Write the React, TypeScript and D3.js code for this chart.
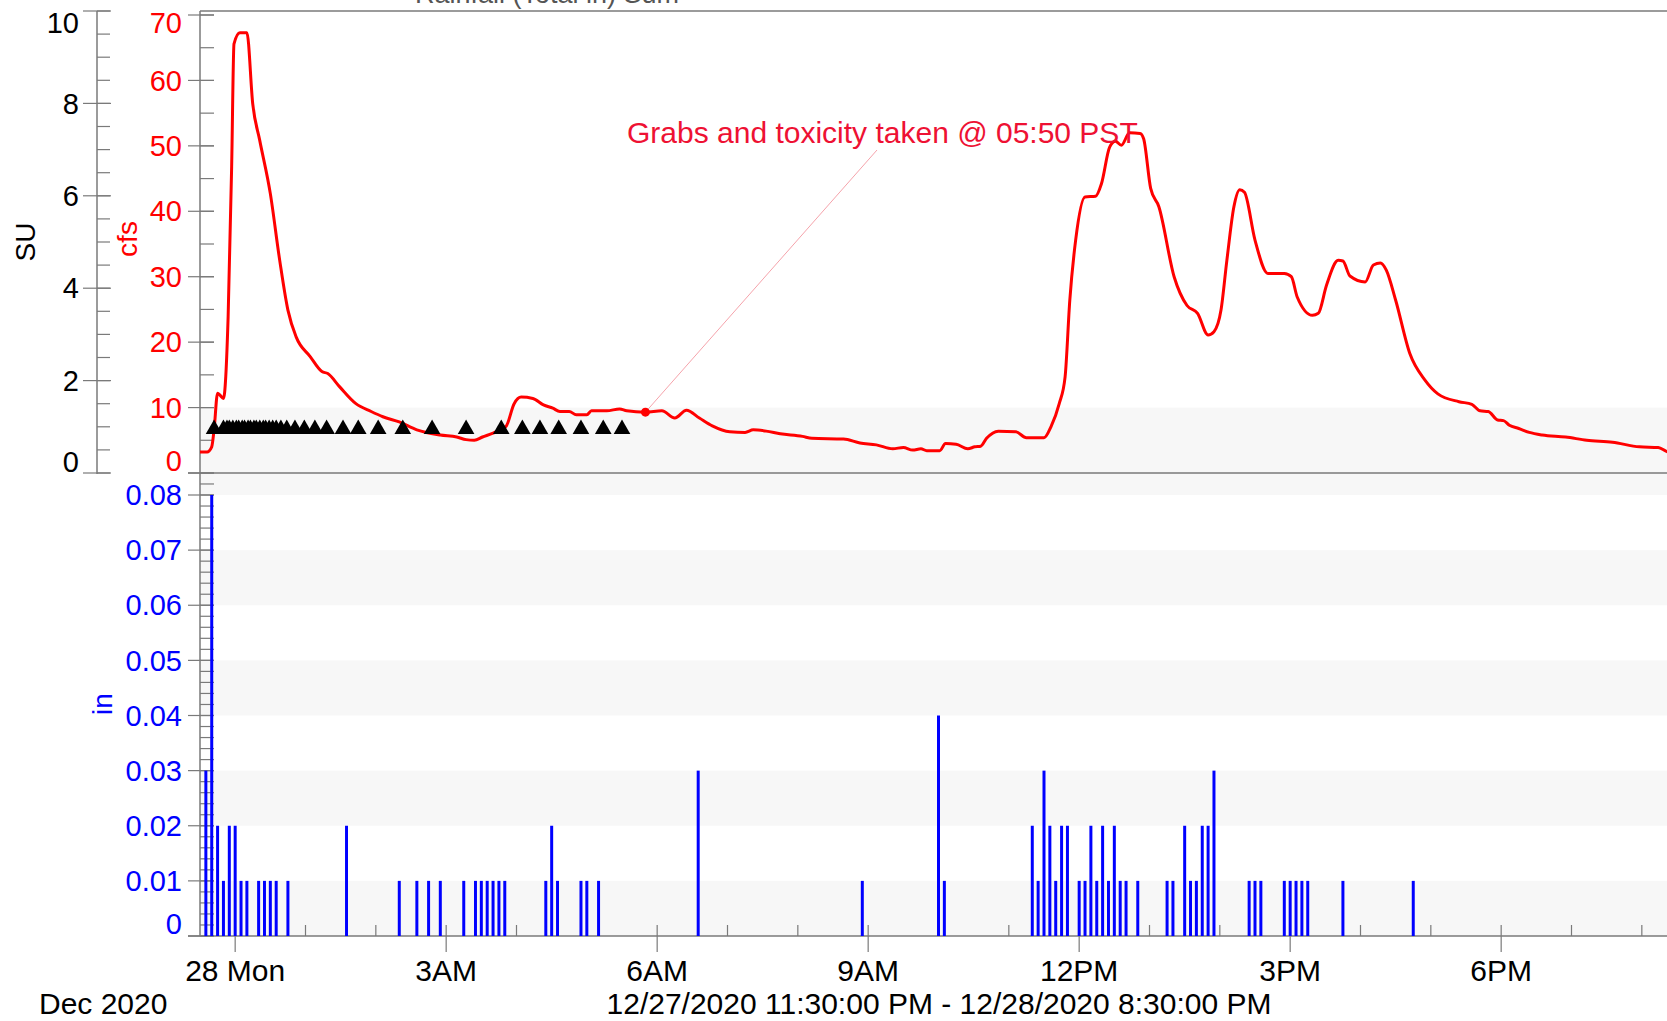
import React from 'react';
import * as d3 from 'd3';

const W = 1667;
const H = 1021;

// time window shown on the chart
const startTime = new Date(2020, 11, 27, 23, 30);
const endTime = new Date(2020, 11, 28, 20, 30);
const midnight = new Date(2020, 11, 28, 0, 0);

// flow (cfs) as [minutes after midnight 12/28, cfs]
const flowSeries: [number, number][] = [
  [-30, 3.2], [-24, 3.2], [-20, 4.0], [-18, 6.6], [-15, 12.2], [-12.5, 11.9], [-10, 11.4],
  [-6, 23.9], [-3, 46.8], [-0.3, 65.6], [4, 67.3], [10, 67.3], [15, 56.4], [21, 50.8],
  [30, 42.7], [38, 32.5], [45, 24.9], [52, 20.8], [64, 17.8], [74, 15.5], [79, 15.2],
  [89, 13.2], [103, 10.6], [116, 9.4], [126, 8.6], [140, 7.8], [155, 6.6], [175, 5.8],
  [189, 5.5], [197, 5.1], [204, 5.0], [211, 5.5], [220, 6.1], [231, 7.1], [238, 10.6],
  [244, 11.6], [254, 11.4], [263, 10.4], [271, 9.9], [277, 9.4], [285, 9.4], [291, 8.9],
  [300, 8.9], [304, 9.5], [317, 9.5], [328, 9.8], [334, 9.5], [350, 9.3], [364, 9.5],
  [375, 8.4], [385, 9.6], [396, 8.4], [407, 7.2], [422, 6.3], [435, 6.2], [442, 6.6],
  [453, 6.4], [465, 6.0], [484, 5.6], [492, 5.3], [519, 5.2], [533, 4.6], [547, 4.3],
  [561, 3.7], [570, 3.9], [578, 3.5], [585, 3.7], [590, 3.4], [601, 3.4], [606, 4.5],
  [615, 4.4], [625, 3.7], [631, 4.0], [636, 4.1], [641, 5.3], [651, 6.4], [666, 6.3],
  [675, 5.4], [690, 5.4], [696, 7.1], [703, 10.6], [708, 14.7], [712, 26.4], [717, 35.6],
  [725, 42.2], [734, 42.3], [739, 44.2], [746, 49.8], [751, 50.7], [756, 50.1], [763, 52.0],
  [772, 51.9], [775, 51.1], [781, 43.5], [788, 40.7], [801, 30.0], [812, 25.6], [821, 24.4],
  [830, 21.1], [835, 21.6], [841, 24.9], [846, 32.5], [852, 40.7], [857, 43.3], [861, 42.9],
  [870, 35.6], [881, 30.5], [895, 30.5], [901, 30.0], [906, 26.9], [919, 24.1], [924, 24.4],
  [931, 28.7], [941, 32.5], [945, 32.4], [951, 30.1], [964, 29.2], [971, 31.8], [977, 32.1],
  [982, 31.0], [990, 26.4], [1002, 18.3], [1015, 14.2], [1026, 12.1], [1044, 10.9],
  [1055, 10.5], [1062, 9.5], [1069, 9.4], [1077, 8.1], [1082, 8.0], [1087, 7.3], [1095, 6.8],
  [1104, 6.2], [1115, 5.8], [1135, 5.5], [1153, 5.0], [1175, 4.7], [1198, 4.0], [1214, 3.9],
  [1221, 3.3], [1230, 3.0],
];

// 5-minute rainfall totals (in)
const rainMinutes = [
  -25, -20, -15, -10, -5, 0, 5, 10, 20, 25, 30, 35, 45, 95, 140, 155, 165, 175, 195, 205,
  210, 215, 220, 225, 230, 265, 270, 275, 295, 300, 310, 395, 535, 600, 605, 680, 685, 690,
  695, 700, 705, 710, 720, 725, 730, 735, 740, 745, 750, 755, 760, 770, 795, 800, 810, 815,
  820, 825, 830, 835, 865, 870, 875, 895, 900, 905, 910, 915, 945, 1005,
];
const rainInches = [
  0.03, 0.08, 0.02, 0.01, 0.02, 0.02, 0.01, 0.01, 0.01, 0.01, 0.01, 0.01, 0.01, 0.02, 0.01,
  0.01, 0.01, 0.01, 0.01, 0.01, 0.01, 0.01, 0.01, 0.01, 0.01, 0.01, 0.02, 0.01, 0.01, 0.01,
  0.01, 0.03, 0.01, 0.04, 0.01, 0.02, 0.01, 0.03, 0.02, 0.01, 0.02, 0.02, 0.01, 0.01, 0.02,
  0.01, 0.02, 0.01, 0.02, 0.01, 0.01, 0.01, 0.01, 0.01, 0.02, 0.01, 0.01, 0.02, 0.02, 0.03,
  0.01, 0.01, 0.01, 0.01, 0.01, 0.01, 0.01, 0.01, 0.01, 0.01,
];

// sample markers (minutes after midnight), drawn on the SU axis
const sampleMinutes = [
  -18, -10, -7, -5, -2, 1, 3, 6, 8, 11, 13, 16, 18, 21, 24, 26, 29, 32, 35, 39, 44, 51, 59,
  68, 78, 92, 105, 122, 143, 168, 197, 227, 245, 260, 276, 295, 314, 330,
];
const sampleSU = 0.95;

const suTicks = [0, 2, 4, 6, 8, 10];
const cfsTicks = [0, 10, 20, 30, 40, 50, 60, 70];
const inTicks = [0, 0.01, 0.02, 0.03, 0.04, 0.05, 0.06, 0.07, 0.08];

const grabMinute = 350; // 05:50
const grabNote = 'Grabs and toxicity taken @ 05:50 PST';

const FONT = '"Liberation Sans", Arial, sans-serif';
const AXIS = '#7a7a7a';
const BAND = '#f7f7f7';

const atMin = (m: number) => d3.timeMinute.offset(midnight, m);

export default function App() {
  const left = 200;
  const topY = 11;
  const midY = 473;
  const botY = 936;

  const x = d3.scaleTime().domain([startTime, endTime]).range([left, 1677]);
  const ySU = d3.scaleLinear().domain([0, 10]).range([midY, topY]);
  const yCfs = d3.scaleLinear().domain([0, 70]).range([midY, 15]);
  const yIn = d3.scaleLinear().domain([0, 0.08]).range([botY, 495]);

  const flowLine = d3
    .line<[number, number]>()
    .x((d) => x(atMin(d[0])))
    .y((d) => yCfs(d[1]))
    .curve(d3.curveMonotoneX);

  const tri = d3.symbol(d3.symbolTriangle, 120)();

  // keep edge labels inside their panel
  const clampY = (y: number, a: number, b: number) => Math.min(Math.max(y, a + 12), b - 12);

  const majorX = x.ticks(d3.timeHour.every(3));
  const minorX = x.ticks(d3.timeHour.every(1));
  const fmtX = (d: Date) => (d.getHours() === 0 ? d3.timeFormat('%d %a')(d) : d3.timeFormat('%-I%p')(d));

  const cfsMinor = d3.range(0, 71, 5);
  const suMinor = d3.range(0, 10.01, 0.5);
  const inMinor = d3.range(0, 0.0825, 0.002);
  const inTop = yIn.invert(midY);

  const grabX = x(atMin(grabMinute));
  const grabY = yCfs(9.3);

  return (
    <svg
      width={W}
      height={H}
      style={{ position: 'absolute', left: 0, top: 0, background: '#fff' }}
      fontFamily={FONT}
    >
      {/* faint background bands */}
      <rect x={left} y={yCfs(10)} width={W - left} height={midY - yCfs(10)} fill={BAND} />
      {d3.range(0, 9, 2).map((k) => {
        const lo = k * 0.01;
        const hi = Math.min((k + 1) * 0.01, inTop);
        return <rect key={k} x={left} y={yIn(hi)} width={W - left} height={yIn(lo) - yIn(hi)} fill={BAND} />;
      })}

      {/* partially visible title at the very top */}
      <text x={415} y={3} fontSize={27} fill="#555">Rainfall (Total in) Sum</text>

      {/* frame lines */}
      <line x1={left} x2={W} y1={topY} y2={topY} stroke={AXIS} strokeWidth={1.5} />
      <line x1={188} x2={W} y1={midY} y2={midY} stroke={AXIS} strokeWidth={1.5} />
      <line x1={188} x2={W} y1={botY} y2={botY} stroke={AXIS} strokeWidth={1.5} />
      <line x1={left} x2={left} y1={topY} y2={botY} stroke={AXIS} strokeWidth={1.5} />
      <line x1={97} x2={97} y1={topY} y2={midY + 1} stroke={AXIS} strokeWidth={1.5} />

      {/* SU axis */}
      {suMinor.map((v) => (
        <line key={'sm' + v} x1={97} x2={110} y1={ySU(v)} y2={ySU(v)} stroke={AXIS} strokeWidth={1.2} />
      ))}
      {suTicks.map((v) => (
        <g key={'su' + v}>
          <line x1={83} x2={111} y1={ySU(v)} y2={ySU(v)} stroke={AXIS} strokeWidth={1.2} />
          <text x={79} y={clampY(ySU(v), topY, midY + 1)} dy="0.35em" textAnchor="end" fontSize={29} fill="#000">
            {v}
          </text>
        </g>
      ))}
      <text transform="translate(25,242) rotate(-90)" dy="0.35em" textAnchor="middle" fontSize={28} fill="#000">
        SU
      </text>

      {/* cfs axis */}
      {cfsMinor.map((v) => (
        <line key={'cm' + v} x1={left} x2={214} y1={yCfs(v)} y2={yCfs(v)} stroke={AXIS} strokeWidth={1.2} />
      ))}
      {cfsTicks.map((v) => (
        <g key={'c' + v}>
          <line x1={188} x2={214} y1={yCfs(v)} y2={yCfs(v)} stroke={AXIS} strokeWidth={1.2} />
          <text x={182} y={clampY(yCfs(v), topY, midY)} dy="0.35em" textAnchor="end" fontSize={29} fill="#ff0000">
            {v}
          </text>
        </g>
      ))}
      <text transform="translate(127,239) rotate(-90)" dy="0.35em" textAnchor="middle" fontSize={28} fill="#ff0000">
        cfs
      </text>

      {/* rainfall axis */}
      {inMinor.map((v, i) => (
        <line key={'im' + i} x1={left} x2={214} y1={yIn(v)} y2={yIn(v)} stroke={AXIS} strokeWidth={1.2} />
      ))}
      {inTicks.map((v) => (
        <g key={'i' + v}>
          <line x1={188} x2={214} y1={yIn(v)} y2={yIn(v)} stroke={AXIS} strokeWidth={1.2} />
          <text x={182} y={clampY(yIn(v), midY, botY)} dy="0.35em" textAnchor="end" fontSize={29} fill="#0000ff">
            {v === 0 ? '0' : v.toFixed(2)}
          </text>
        </g>
      ))}
      <text transform="translate(102,704) rotate(-90)" dy="0.35em" textAnchor="middle" fontSize={28} fill="#0000ff">
        in
      </text>

      {/* time axis */}
      {minorX.map((d, i) => (
        <line key={'xm' + i} x1={x(d)} x2={x(d)} y1={925} y2={botY} stroke={AXIS} strokeWidth={1.2} />
      ))}
      {majorX.map((d, i) => (
        <g key={'xM' + i}>
          <line x1={x(d)} x2={x(d)} y1={botY} y2={952} stroke={AXIS} strokeWidth={1.2} />
          <text x={x(d)} y={981} textAnchor="middle" fontSize={30} fill="#000">
            {fmtX(d)}
          </text>
        </g>
      ))}
      <text x={39} y={1014} fontSize={30} fill="#000">Dec 2020</text>
      <text x={939} y={1014} textAnchor="middle" fontSize={30} fill="#000">
        12/27/2020 11:30:00 PM - 12/28/2020 8:30:00 PM
      </text>

      {/* rainfall bars */}
      {rainMinutes.map((m, i) => (
        <line
          key={'r' + i}
          x1={x(atMin(m))}
          x2={x(atMin(m))}
          y1={yIn(0)}
          y2={yIn(rainInches[i])}
          stroke="#0000ff"
          strokeWidth={3}
        />
      ))}

      {/* annotation leader */}
      <line x1={grabX} y1={grabY} x2={877} y2={150} stroke="#f5a3ab" strokeWidth={1} />

      {/* flow */}
      <path d={flowLine(flowSeries) || ''} fill="none" stroke="#ff0000" strokeWidth={3} strokeLinejoin="round" />
      <circle cx={grabX} cy={grabY} r={4.5} fill="#ff0000" />

      {/* samples */}
      {sampleMinutes.map((m, i) => (
        <path key={'s' + i} d={tri || ''} transform={`translate(${x(atMin(m))},${ySU(sampleSU)})`} fill="#000" />
      ))}

      <text x={627} y={143} fontSize={30} fill="#ee1133">{grabNote}</text>
    </svg>
  );
}
